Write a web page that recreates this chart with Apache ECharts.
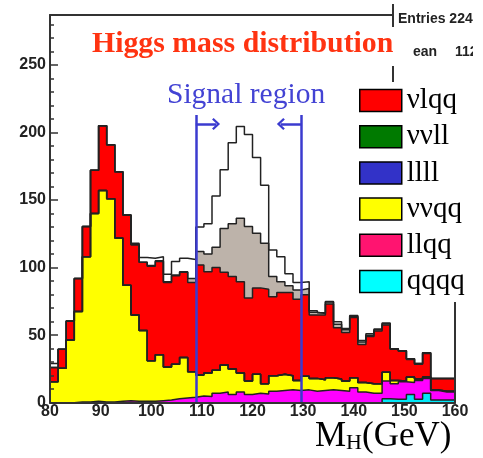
<!DOCTYPE html>
<html>
<head>
<meta charset="utf-8">
<script src="https://cdn.jsdelivr.net/npm/echarts@6/dist/echarts.min.js"></script>
<style>html,body{margin:0;padding:0;background:#fff}#c{width:483px;height:458px}</style>
</head>
<body>
<div id="c"></div>
<script>
// Histogram binning: 50 bins from 80 to 160 GeV
const binLow = 80, binWidth = 1.6, nBins = 50;
const xMin = 80, xMax = 160, xTickStep = 10;
const yMin = 0, yMax = 287, yTickStep = 50, yMinorStep = 10;

// Per-component bin contents (stacked from bottom to top)
const qqqq = [0,0,0,0,0,0,0,0,0,0, 0,0,0,0,0,0,0,0,0,0, 0,0,0,0,0,0,0,0,0,0, 0,0,0,0,0,0,0,0,0,0, 0,3,2.5,2.5,6,2.5,7,2,2,2];
const llqq = [0,0,0,0.5,0.5,1,0.5,0.5,1,1.5, 1,1,1,1.5,2,3,3.5,4,5,4.5, 7,8,6,8,6,7,6.5,8.5,9,9.5, 9,9.5,8.5,9,9.5,9,8.5,11,8,7, 7,13,11.5,13,9,14,11,7,6,6];
const vvqq = [15.5,25.5,46.5,67,107.5,139,156.5,150.5,121,85.5, 64,52.5,30,34,24.5,25.5,30,19,15.5,17.5, 17,20,19,14,10,14,7.5,11.5,12,10.5, 7.5,10,9.5,8,9,8.5,7.5,7.5,7,7, 7,6.5,2.5,0.5,4,1,1,0.5,0.5,0.5];
const llll = [0,0,0,0,0,0,0,0,0,0, 0,0,0,0,0,0,0,0,0,0, 0,0,0,0,0,0,0,0,0,0, 0,0,0,0,0,0,0,0,0,0, 0,0,0,0,0,0,0,0,0,0];
const vvll = [0,0,0,0,0,0,0,0,0,0, 0,0,0,0,0,0,0,0,0,0, 0,0,0,0,0,0,0,0,0,0, 0,0,0,0,0,0,0,0,0,0, 0,0,0,0,0,0,0,0,0,0];
const vlqq = [10.5,14,14,24.5,22.5,32,48,40,49,52, 52,50.5,70,69,62.5,65.5,63,66,81.5,75, 76,68.5,68.5,67.5,61.5,64,70,58.5,60.5,61.5, 60,60.5,47,48,54.5,38,36,44.5,28,35, 39,35,23,22,13,11,17.5,8.5,9.5,9.5];
const other = [0,0,0,0,0,0,0,0,0,0, 0,0,0.5,0.5,0.5,0.5,0.5,3,10,13, 15,32.5,39,47,53,40.5,34,15,8,5, 7,4.5,2,1,1.5,2.5,2,1,2,1, 1,1,0.5,0.5,0.5,0.5,0.5,0,0,0];
const signal = [3,0,0,0,0,0,0,0,0,0, 1,3.5,5.5,3,5.5,10,10,14,18,22.5, 38,43.5,60,68,68,56,43,19.5,18.5,9, 5.5,5,1,0.5,0.5,2,1,0.5,1,1, 0.5,0.5,0,0,0,0,0,0,0,0];

// Signal region window (GeV) and its marker height
const signalRegion = [108.8, 129.6];
const signalLineTop = 213;
const arrowLevel = 206.4;
const arrowEnds = [112.8, 125.6];

const legendNames = ['νlqq','ννll','llll','ννqq','llqq','qqqq'];
const legendColors = ['#ff0000','#007a00','#3232c8','#ffff00','#ff1470','#00ffff'];

const edges = Array.from({length: nBins}, (_, i) => +(binLow + i * binWidth).toFixed(3));
const binHigh = binLow + nBins * binWidth;

const layers = [
  {name:'qqqq', values:qqqq, color:'#00e8f8'},
  {name:'llqq', values:llqq, color:'#ff00ff'},
  {name:'ννqq', values:vvqq, color:'#ffff00'},
  {name:'llll', values:llll, color:'#3333cc'},
  {name:'ννll', values:vvll, color:'#008000'},
  {name:'νlqq', values:vlqq, color:'#ff0000'},
  {name:'other', values:other, color:'#bdb3aa'},
  {name:'signal', values:signal, color:'#ffffff'}
];
let cum = new Array(nBins).fill(0);
const built = layers.map(l => { cum = cum.map((c, i) => c + l.values[i]); return Object.assign({}, l, {top: cum.slice()}); });

function stepData(top) {
  const d = [[binLow, 0]];
  top.forEach((v, i) => d.push([edges[i], v]));
  d.push([binHigh, top[nBins - 1]]);
  d.push([binHigh, 0]);
  return d;
}

const chevron = 'path://M0,10 L10,0 L20,10 L17.5,12.5 L10,5 L2.5,12.5 Z';
const blue = '#3b3bcf';

const series = built.slice().reverse().map((l, k, arr) => {
  const s = {
    name: l.name, type: 'line', step: 'end', symbol: 'none', silent: true, animation: false,
    data: stepData(l.top),
    lineStyle: {color: '#222', width: 1.5},
    itemStyle: {color: l.color},
    areaStyle: {color: l.color, opacity: 1},
    emphasis: {disabled: true}
  };
  if (k === arr.length - 1) {
    s.markLine = {
      silent: true, animation: false, symbol: 'none',
      label: {show: false},
      lineStyle: {color: blue, width: 2.5, type: 'solid'},
      emphasis: {disabled: true},
      data: [
        [{coord: [signalRegion[0], 0]}, {coord: [signalRegion[0], signalLineTop]}],
        [{coord: [signalRegion[1], 0]}, {coord: [signalRegion[1], signalLineTop]}],
        [{coord: [signalRegion[0], arrowLevel]}, {coord: [arrowEnds[0], arrowLevel], symbol: chevron, symbolSize: [12, 8]}],
        [{coord: [signalRegion[1], arrowLevel]}, {coord: [arrowEnds[1], arrowLevel], symbol: chevron, symbolSize: [12, 8]}]
      ]
    };
  }
  return s;
});

const axisCol = '#333';
const chart = echarts.init(document.getElementById('c'), null, {renderer: 'canvas'});
chart.setOption({
  animation: false,
  backgroundColor: '#fff',
  grid: {left: 50, top: 15, width: 405, height: 387.7, containLabel: false},
  xAxis: [
    {type: 'value', min: xMin, max: xMax, interval: xTickStep, position: 'bottom', z: 5,
     axisLine: {show: true, onZero: false, lineStyle: {color: axisCol, width: 2}},
     axisTick: {show: false}, splitLine: {show: false},
     axisLabel: {fontFamily: 'Liberation Sans', fontWeight: 'bold', fontSize: 16, color: '#222', margin: 1}},
    {type: 'value', min: xMin, max: xMax, position: 'top', z: 5,
     axisLine: {show: true, onZero: false, lineStyle: {color: axisCol, width: 2}},
     axisTick: {show: false}, axisLabel: {show: false}, splitLine: {show: false}}
  ],
  yAxis: [
    {type: 'value', min: yMin, max: yMax, interval: yTickStep, position: 'left', z: 5,
     axisLine: {show: true, onZero: false, lineStyle: {color: axisCol, width: 2}},
     axisTick: {show: true, inside: true, length: 8, lineStyle: {color: axisCol, width: 1.5}},
     axisLabel: {formatter: v => (v % yTickStep === 0 ? String(v) : ''), fontFamily: 'Liberation Sans', fontWeight: 'bold', fontSize: 16, color: '#222', margin: 4},
     splitLine: {show: false}},
    {type: 'value', min: yMin, max: yMax, interval: yMinorStep, position: 'left', z: 5,
     axisLine: {show: false},
     axisTick: {show: true, inside: true, length: 4, lineStyle: {color: axisCol, width: 1.5}},
     axisLabel: {show: false}, splitLine: {show: false}},
    {type: 'value', min: yMin, max: yMax, position: 'right', z: 5,
     axisLine: {show: true, onZero: false, lineStyle: {color: axisCol, width: 2}},
     axisTick: {show: false}, axisLabel: {show: false}, splitLine: {show: false}}
  ],
  legend: {
    show: true, orient: 'vertical', left: 359, top: 86, z: 20,
    selectedMode: false, icon: 'rect', itemWidth: 42, itemHeight: 22, itemGap: 7.2,
    padding: 0,
    textStyle: {fontFamily: 'Liberation Serif', fontSize: 29, color: '#000', lineHeight: 22},
    itemStyle: {borderColor: '#000', borderWidth: 1.5},
    data: legendNames.map((n, i) => ({name: n, itemStyle: {color: legendColors[i], borderColor: '#000', borderWidth: 1.5}}))
  },
  graphic: {elements: [
    {type: 'rect', z: 10, silent: true, shape: {x: 393, y: 0, width: 90, height: 82}, style: {fill: '#fff'}},
    {type: 'rect', z: 10, silent: true, shape: {x: 350, y: 82, width: 133, height: 220}, style: {fill: '#fff'}},
    {type: 'rect', z: 10, silent: true, shape: {x: 80, y: 27, width: 331, height: 39}, style: {fill: '#fff'}},
    {type: 'line', z: 11, silent: true, shape: {x1: 393, y1: 4, x2: 393, y2: 27}, style: {stroke: axisCol, lineWidth: 2}},
    {type: 'line', z: 11, silent: true, shape: {x1: 393, y1: 66, x2: 393, y2: 82}, style: {stroke: axisCol, lineWidth: 2}},
    {type: 'text', z: 11, silent: true, style: {text: 'Entries 224', x: 398, y: 19, font: 'bold 14px "Liberation Sans"', fill: '#222', textAlign: 'left', textVerticalAlign: 'middle', align: 'left', verticalAlign: 'middle'}},
    {type: 'text', z: 11, silent: true, style: {text: 'ean', x: 413, y: 52, font: 'bold 14px "Liberation Sans"', fill: '#222', textAlign: 'left', textVerticalAlign: 'middle', align: 'left', verticalAlign: 'middle'}},
    {type: 'text', z: 11, silent: true, style: {text: '112', x: 455, y: 52, font: 'bold 14px "Liberation Sans"', fill: '#222', textAlign: 'left', textVerticalAlign: 'middle', align: 'left', verticalAlign: 'middle'}},
    {type: 'rect', z: 12, silent: true, shape: {x: 473, y: 0, width: 10, height: 82}, style: {fill: '#fff'}},
    {type: 'text', z: 12, silent: true, style: {text: 'Higgs mass distribution', x: 92, y: 44, font: 'bold 29.8px "Liberation Serif"', fill: '#ff3311', textAlign: 'left', textVerticalAlign: 'middle', align: 'left', verticalAlign: 'middle'}},
    {type: 'text', z: 12, silent: true, style: {text: 'Signal region', x: 167, y: 95, font: '29.5px "Liberation Serif"', fill: '#4343d4', textAlign: 'left', textVerticalAlign: 'middle', align: 'left', verticalAlign: 'middle'}},
    {type: 'text', z: 12, silent: true, style: {text: '{m|M}{h|H}{m|(GeV)}', x: 315, y: 437, fill: '#000', textAlign: 'left', textVerticalAlign: 'middle', align: 'left', verticalAlign: 'middle',
      rich: {m: {fontFamily: 'Liberation Serif', fontSize: 35, fill: '#000', color: '#000'}, h: {fontFamily: 'Liberation Serif', fontSize: 22, lineHeight: 17, verticalAlign: 'bottom', fill: '#000', color: '#000'}}}}
  ]},
  series: series
});
</script>
</body>
</html>
